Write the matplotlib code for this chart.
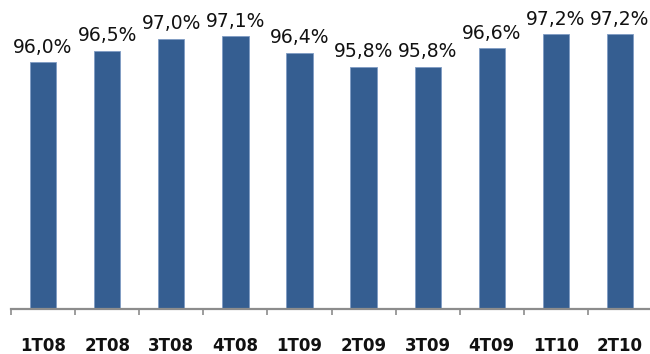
import numpy as np
import matplotlib
matplotlib.use("Agg")
import matplotlib.pyplot as plt
from matplotlib.ticker import FixedLocator

# quarterly values (%)
quarters = ['1T08', '2T08', '3T08', '4T08', '1T09', '2T09', '3T09', '4T09', '1T10', '2T10']
values = [96.0, 96.5, 97.0, 97.1, 96.4, 95.8, 95.8, 96.6, 97.2, 97.2]

bar_color = '#355E91'
axis_gray = '#8C8C8C'

fig = plt.figure(figsize=(6.5, 3.54), dpi=100)
W, H = 650, 354
ax = fig.add_axes([11 / W, (H - 309) / H, 640 / W, 309 / H])

x = np.arange(len(quarters))
ax.bar(x, values, width=0.41, color=bar_color, edgecolor='#7F9CC4', linewidth=0.6, zorder=2)

# value labels above the bars
for xi, v in zip(x, values):
    ax.annotate(f"{v:.1f}%".replace('.', ','), (xi, v), xytext=(0, 4),
                textcoords='offset points', ha='center', va='bottom',
                fontsize=13.5, color='#111111')

ax.set_xlim(-0.5, 9.484)
ax.set_ylim(85.45, 98.66)

for side in ['left', 'right', 'top']:
    ax.spines[side].set_visible(False)
ax.spines['bottom'].set_color(axis_gray)
ax.spines['bottom'].set_linewidth(1.6)

ax.set_yticks([])
ax.set_xticks(x)
ax.set_xticklabels(quarters, fontsize=12, fontweight='bold', color='#111111')
ax.tick_params(axis='x', which='major', length=0, pad=20)
ax.xaxis.set_minor_locator(FixedLocator(np.arange(-0.5, 10, 1.0)))
ax.tick_params(axis='x', which='minor', length=4, width=1.2, color=axis_gray)

fig.savefig('out.png', dpi=100)
